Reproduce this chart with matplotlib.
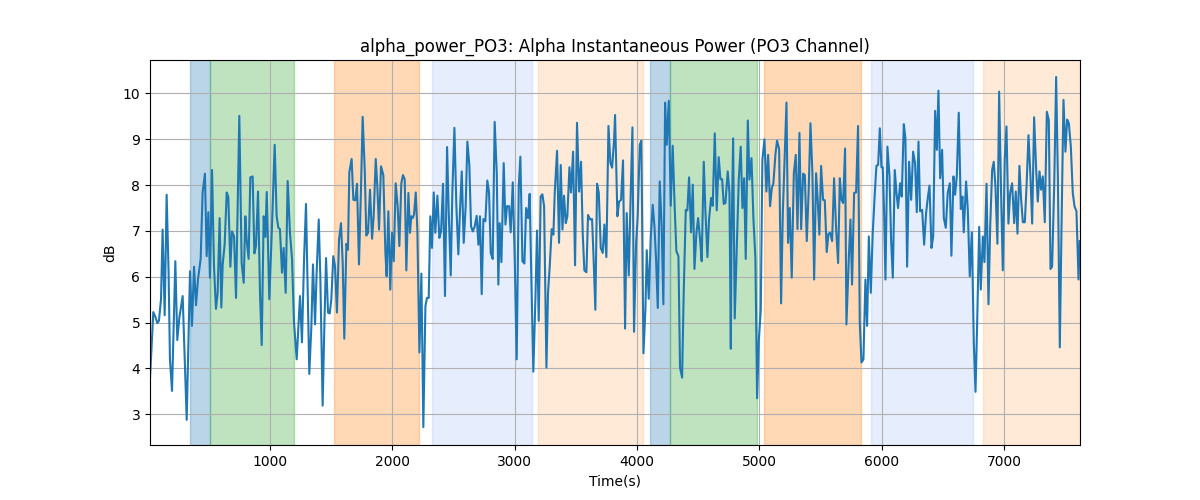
import matplotlib
matplotlib.use("Agg")
import matplotlib.pyplot as plt

# sample times (s) and alpha power (dB)
times = [19, 46, 65, 79, 92, 109, 122, 139, 155, 171, 182, 199, 226, 242, 259, 286, 319, 346, 362, 379,
         395, 411, 433, 449, 468, 482, 496, 509, 526, 542, 558, 572, 588, 602, 613, 629, 646, 659, 676, 689,
         706, 722, 749, 768, 785, 798, 809, 825, 839, 858, 872, 885, 902, 918, 932, 948, 962, 973,
         994, 1016, 1038, 1054, 1068, 1081, 1098, 1111, 1128, 1144, 1163, 1180, 1196, 1218, 1234, 1245, 1261,
         1278, 1294, 1308, 1321, 1338, 1351, 1368, 1381, 1398, 1411, 1430, 1444, 1458, 1474, 1488, 1501, 1517,
         1531, 1547, 1564, 1580, 1594, 1607, 1624, 1637, 1648, 1667, 1681, 1697, 1711, 1727, 1744, 1757, 1774,
         1787, 1801, 1817, 1834, 1847, 1864, 1877, 1891, 1907,
         1926, 1943, 1953, 1967, 1983, 1997, 2011, 2027, 2043, 2057, 2073, 2087, 2101, 2114, 2131, 2144, 2155,
         2166, 2177, 2191, 2204, 2221, 2237, 2253, 2270, 2283, 2297, 2310, 2324, 2338, 2351, 2368, 2384, 2398,
         2414, 2430, 2447, 2460, 2477, 2490, 2507, 2523, 2539, 2553, 2567, 2583, 2599, 2613, 2629, 2643, 2657,
         2673, 2689, 2703, 2716, 2730, 2744, 2760, 2776, 2790, 2804, 2820, 2836, 2853, 2866,
         2877, 2891, 2910, 2924, 2937, 2954, 2967, 2984, 3000, 3016, 3033, 3046, 3063, 3079, 3093, 3109, 3122,
         3136, 3152, 3169, 3182, 3196, 3212, 3226, 3240, 3259, 3272, 3286, 3302, 3316, 3327, 3346, 3362, 3376,
         3390, 3403, 3417, 3430, 3447, 3460, 3477, 3493, 3509, 3526, 3542, 3556, 3569, 3586, 3599, 3616, 3632,
         3643, 3659, 3673, 3687, 3703, 3719, 3733, 3749, 3766, 3782, 3796, 3812, 3820,
         3839, 3853, 3869, 3885, 3902, 3915, 3932, 3948, 3962, 3975, 3992, 4005, 4022, 4035, 4052, 4068, 4079,
         4095, 4112, 4128, 4142, 4155, 4169, 4185, 4201, 4215, 4229, 4242, 4259, 4275, 4291, 4308, 4321, 4338,
         4351, 4368, 4381, 4398, 4411, 4425, 4441, 4455, 4469, 4485, 4499, 4515, 4528, 4545, 4558, 4575, 4588,
         4605, 4618, 4635, 4651, 4667, 4681, 4695, 4708, 4722, 4741, 4755, 4766,
         4771, 4785, 4798, 4815, 4831, 4847, 4861, 4875, 4888, 4905, 4918, 4935, 4951, 4967, 4981, 4994, 5011,
         5024, 5041, 5057, 5071, 5087, 5101, 5114, 5131, 5144, 5161, 5177, 5191, 5204, 5221, 5234, 5248, 5264,
         5281, 5297, 5311, 5327, 5341, 5357, 5371, 5387, 5403, 5417, 5433, 5447, 5463, 5477, 5490, 5504, 5520,
         5534, 5550, 5564, 5578, 5594, 5610, 5627, 5643, 5657, 5670, 5684, 5700, 5711,
         5730, 5744, 5757, 5774, 5790, 5806, 5820, 5834, 5850, 5866, 5880, 5894, 5910, 5926, 5943, 5956, 5970,
         5984, 5997, 6008, 6019, 6030, 6046, 6063, 6076, 6090, 6106, 6120, 6133, 6150, 6163, 6180, 6193, 6207,
         6223, 6240, 6256, 6272, 6286, 6300, 6313, 6330, 6346, 6362, 6376, 6390, 6406, 6420, 6436, 6450, 6463,
         6477, 6493, 6507, 6523, 6539, 6556, 6569, 6586, 6599, 6613, 6629, 6646, 6659,
         6670, 6689, 6703, 6719, 6736, 6752, 6766, 6779, 6796, 6809, 6826, 6839, 6856, 6872, 6886, 6902, 6915,
         6929, 6945, 6959, 6975, 6989, 7005, 7019, 7035, 7049, 7065, 7082, 7095, 7109, 7125, 7139, 7153, 7169,
         7183, 7199, 7215, 7229, 7245, 7262, 7275, 7289, 7302, 7316, 7332, 7349, 7365, 7379, 7392, 7409, 7425,
         7439, 7455, 7469, 7485, 7501, 7515, 7529, 7545, 7561, 7575, 7591, 7608, 7618]

power_db = [3.78, 5.23, 5.11, 4.99, 5.04, 5.51, 7.03, 5.16, 7.79, 6.09, 4.20, 3.51, 6.34, 4.62, 5.11, 5.58, 2.88, 6.12, 4.93, 6.22,
            5.38, 5.94, 6.39, 7.84, 8.25, 6.45, 7.41, 5.98, 8.33, 6.23, 5.30, 5.65, 7.28, 5.33, 6.27, 6.70, 7.84, 7.74, 6.22, 6.99,
            6.88, 5.54, 9.51, 6.30, 5.87, 7.32, 6.81, 6.39, 8.17, 8.19, 6.51, 6.67, 7.86, 5.65, 4.51, 7.32, 6.87, 7.85,
            5.51, 7.10, 8.88, 7.32, 7.07, 7.04, 6.09, 6.63, 5.65, 8.09, 6.96, 6.38, 5.00, 4.20, 5.04, 5.58, 4.57,
            6.38, 7.59, 5.65, 3.88, 4.93, 6.27, 4.96, 6.09, 7.25, 6.01, 3.19, 4.93, 6.41, 5.22, 5.20, 5.51, 6.45,
            6.23, 5.22, 6.81, 7.17, 6.30, 4.65, 6.72, 6.59, 8.28, 8.57, 7.68, 7.67, 8.03, 6.27, 7.97, 9.49, 8.33,
            6.90, 6.96, 7.90, 6.83, 7.32, 8.57, 7.97, 7.03, 8.41,
            8.22, 6.52, 6.01, 7.43, 5.72, 6.96, 6.34, 8.04, 7.54, 6.67, 8.04, 8.22, 8.12, 6.14, 7.83, 6.96, 7.32,
            7.28, 7.36, 7.84, 7.03, 4.35, 6.07, 2.72, 5.36, 5.54, 5.54, 7.32, 6.63, 7.84, 6.96, 7.77, 6.85, 6.99,
            8.03, 5.58, 8.83, 7.46, 6.03, 7.83, 9.25, 7.54, 6.49, 7.46, 8.30, 6.74, 7.54, 8.95, 8.44, 7.10, 6.99,
            7.10, 7.33, 6.70, 7.32, 5.62, 7.26, 7.21, 8.10, 7.84, 6.52, 6.39, 9.38, 8.26, 5.83,
            7.17, 6.32, 8.48, 7.14, 7.54, 7.54, 6.97, 8.06, 6.38, 4.20, 7.97, 8.62, 6.34, 6.29, 7.50, 7.28, 7.81,
            5.94, 3.93, 5.51, 7.01, 5.04, 7.75, 7.80, 7.54, 4.02, 5.65, 6.23, 7.04, 6.92, 7.83, 8.75, 6.74, 8.44,
            7.03, 7.77, 7.17, 7.32, 8.39, 7.84, 8.73, 6.25, 9.36, 7.86, 8.51, 6.92, 6.14, 6.10, 7.35, 7.25, 7.26,
            6.52, 5.28, 8.03, 7.83, 6.63, 6.52, 7.14, 6.43, 9.29, 8.48, 8.38, 8.99, 9.53,
            7.32, 7.64, 7.68, 8.54, 4.87, 7.39, 6.03, 7.83, 9.26, 4.80, 6.74, 7.32, 8.88, 8.97, 4.33, 5.29, 6.58,
            5.52, 6.88, 7.57, 7.10, 6.38, 5.32, 8.08, 7.10, 5.40, 9.80, 8.88, 9.84, 7.55, 8.86, 7.46, 6.56, 6.45,
            4.02, 3.80, 5.65, 7.46, 7.45, 8.17, 6.97, 8.01, 6.17, 6.96, 7.28, 6.81, 6.34, 8.51, 7.46, 6.43, 7.25,
            7.72, 7.55, 9.13, 7.45, 8.61, 8.13, 8.13, 7.59, 7.61, 8.30, 7.83, 4.43,
            6.67, 9.02, 5.09, 6.67, 8.12, 8.84, 7.50, 8.15, 6.39, 9.41, 8.12, 8.59, 7.25, 6.41, 3.35, 4.57, 5.29,
            8.55, 9.00, 7.86, 8.66, 7.54, 7.93, 8.04, 8.68, 8.97, 8.78, 5.42, 7.39, 8.41, 9.80, 6.74, 7.50, 5.98,
            8.26, 8.66, 7.04, 9.14, 7.04, 8.25, 8.22, 6.78, 7.93, 9.35, 8.26, 5.94, 8.26, 7.64, 6.92, 8.42, 7.68,
            7.67, 6.54, 6.94, 6.96, 6.78, 8.15, 7.03, 6.30, 8.15, 7.68, 7.61, 8.80, 4.96,
            6.38, 7.25, 5.83, 7.83, 7.84, 9.29, 5.00, 4.13, 4.20, 5.94, 4.93, 6.88, 5.65, 6.96, 7.83, 8.42, 8.44,
            9.24, 8.39, 8.39, 7.39, 5.94, 8.84, 8.19, 6.81, 5.98, 8.33, 7.83, 7.50, 8.04, 7.75, 9.33, 9.02, 6.22,
            8.51, 7.68, 8.73, 8.48, 7.41, 8.95, 7.43, 7.46, 6.70, 7.39, 7.72, 7.99, 6.63, 6.88, 9.62, 8.77, 10.06,
            8.15, 8.77, 7.28, 7.07, 7.83, 8.04, 6.46, 8.19, 7.79, 8.19, 9.58, 7.48, 7.75,
            6.97, 8.08, 7.46, 6.01, 6.97, 4.57, 3.49, 4.93, 7.09, 5.72, 6.88, 6.32, 8.03, 5.40, 7.10, 8.33, 8.51,
            7.97, 6.72, 10.04, 7.83, 6.14, 8.55, 9.28, 7.16, 7.83, 8.04, 7.17, 7.86, 6.94, 8.42, 7.68, 7.19, 7.19,
            7.97, 9.09, 8.19, 7.16, 9.48, 8.33, 7.64, 8.30, 7.90, 8.19, 7.19, 9.60, 9.42, 6.17, 6.22, 7.97, 10.36,
            8.19, 4.46, 7.10, 9.86, 8.73, 9.43, 9.35, 8.84, 7.83, 7.54, 7.43, 5.94, 6.78]

# shaded epochs: (start, end, colour, alpha)
span_starts = [346, 506, 1523, 2324, 3188, 4106, 4270, 5040, 5913, 6828]
span_ends = [506, 1193, 2215, 3139, 4046, 4270, 4978, 5828, 6744, 7620]
span_colors = ['tab:blue', 'tab:green', 'tab:orange', 'cornflowerblue', 'tab:orange',
               'tab:blue', 'tab:green', 'tab:orange', 'cornflowerblue', 'tab:orange']
span_alphas = [0.3, 0.3, 0.3, 0.16, 0.16, 0.3, 0.3, 0.3, 0.16, 0.16]

fig, ax = plt.subplots(figsize=(12, 5), dpi=100)
for s, e, c, a in zip(span_starts, span_ends, span_colors, span_alphas):
    ax.axvspan(s, e, color=c, alpha=a)
ax.plot(times, power_db, color='tab:blue')
ax.set_xlim(19, 7620)
ax.set_ylim(2.33, 10.73)
ax.set_title('alpha_power_PO3: Alpha Instantaneous Power (PO3 Channel)')
ax.set_xlabel('Time(s)')
ax.set_ylabel('dB')
ax.grid(True)
fig.savefig('out.png')
